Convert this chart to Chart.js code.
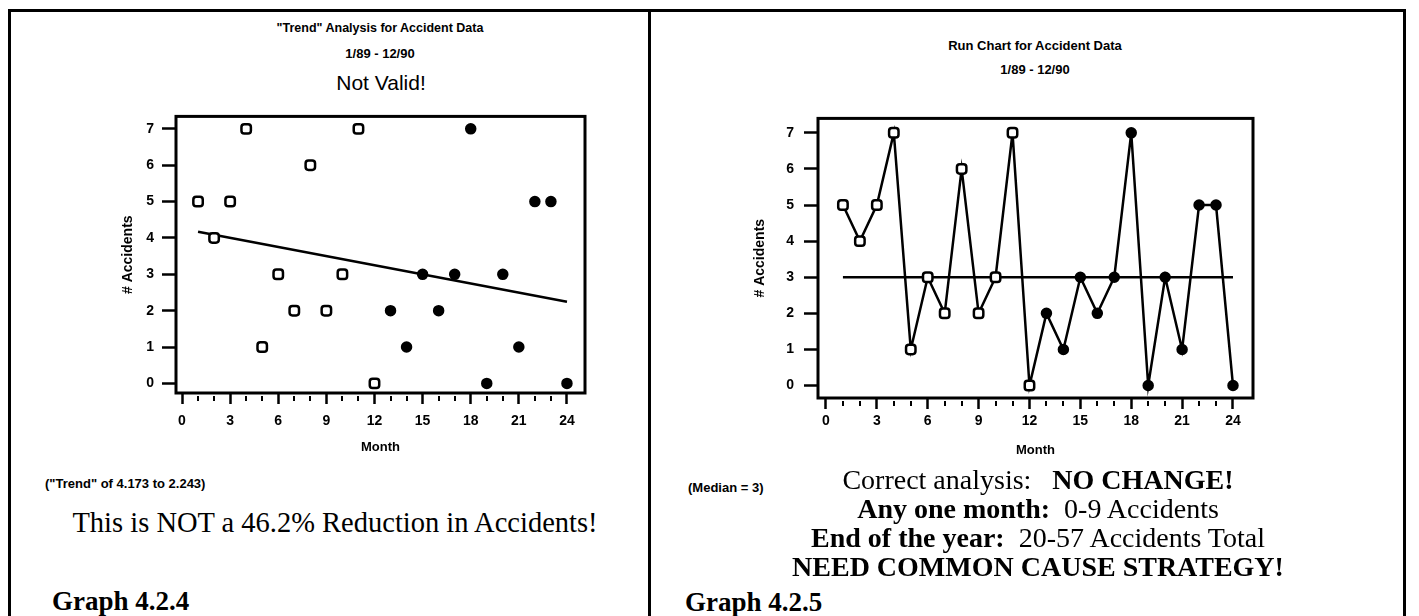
<!DOCTYPE html>
<html>
<head>
<meta charset="utf-8">
<title>Accident Data</title>
<script src="https://cdn.jsdelivr.net/npm/chart.js@4.4.1/dist/chart.umd.min.js"></script>
<style>
  html, body { margin: 0; padding: 0; background: #fff; }
  #page { position: relative; width: 1419px; height: 616px; overflow: hidden; background: #fff; }
  .box { position: absolute; border: 3px solid #000; box-sizing: border-box; }
  .t { position: absolute; white-space: pre; line-height: 1; color: #000; }
  .c { transform: translate(-50%, -50%); }
  .l { transform: translateY(-50%); }
  .sans { font-family: 'Liberation Sans Narrow', 'Liberation Sans', Arial, sans-serif; font-weight: bold; }
  .serif { font-family: 'Liberation Serif', 'Times New Roman', serif; }
  canvas { position: absolute; }
</style>
</head>
<body>
<div id="page">
  <div class="box" style="left:8px; top:9px; width:643px; height:640px;"></div>
  <div class="box" style="left:648px; top:9px; width:758px; height:640px;"></div>

  <!-- left panel -->
  <div class="t c sans" style="left:380px; top:28px; font-size:12.5px;">"Trend" Analysis for Accident Data</div>
  <div class="t c sans" style="left:380px; top:53px; font-size:13px;">1/89 - 12/90</div>
  <div class="t c sans" style="left:381px; top:82px; font-size:21px; font-weight:normal;">Not Valid!</div>
  <canvas id="trendChart" width="500" height="365" style="left:100px; top:100px;"></canvas>
  <div class="t l sans" style="left:45px; top:483px; font-size:13px;">("Trend" of 4.173 to 2.243)</div>
  <div class="t c serif" style="left:335px; top:523px; font-size:28.5px;">This is NOT a 46.2% Reduction in Accidents!</div>
  <div class="t l serif" style="left:52px; top:601px; font-size:27px; font-weight:bold;">Graph 4.2.4</div>

  <!-- right panel -->
  <div class="t c sans" style="left:1035px; top:45px; font-size:13px;">Run Chart for Accident Data</div>
  <div class="t c sans" style="left:1035px; top:69px; font-size:13px;">1/89 - 12/90</div>
  <canvas id="runChart" width="530" height="370" style="left:740px; top:100px;"></canvas>
  <div class="t l sans" style="left:688px; top:487px; font-size:13px;">(Median = 3)</div>
  <div class="t c serif" style="left:1038px; top:480px; font-size:28px;">Correct analysis:   <b>NO CHANGE!</b></div>
  <div class="t c serif" style="left:1038px; top:509px; font-size:28px;"><b>Any one month:</b>  0-9 Accidents</div>
  <div class="t c serif" style="left:1038px; top:538px; font-size:28px;"><b>End of the year:</b>  20-57 Accidents Total</div>
  <div class="t c serif" style="left:1038px; top:567px; font-size:28px; font-weight:bold;">NEED COMMON CAUSE STRATEGY!</div>
  <div class="t l serif" style="left:685px; top:602px; font-size:27px; font-weight:bold;">Graph 4.2.5</div>
</div>

<script>
// accidents per month, 1/89 - 12/90
const months = [1, 2, 3, 4, 5, 6, 7, 8, 9, 10, 11, 12, 13, 14, 15, 16, 17, 18, 19, 20, 21, 22, 23, 24];
const accidents = [5, 4, 5, 7, 1, 3, 2, 6, 2, 3, 7, 0, 2, 1, 3, 2, 3, 7, 0, 3, 1, 5, 5, 0];
const firstYearCount = 12; // open squares for 1989, filled dots for 1990

// "trend" line and median
const trendMonths = [1, 24];
const trendValues = [4.173, 2.243];
const medianMonths = [1, 24];
const medianValues = [3, 3];

const xTicks = [0, 3, 6, 9, 12, 15, 18, 21, 24];
const xMinorTicks = [1, 2, 4, 5, 7, 8, 10, 11, 13, 14, 16, 17, 19, 20, 22, 23];
const yTicks = [0, 1, 2, 3, 4, 5, 6, 7];

const sansFont = "'Liberation Sans Narrow', 'Liberation Sans', Arial, sans-serif";
Chart.defaults.font.family = sansFont;
Chart.defaults.font.weight = 'bold';
Chart.defaults.color = '#000';

const points = months.map((m, i) => ({ x: m, y: accidents[i] }));
const trendPoints = trendMonths.map((m, i) => ({ x: m, y: trendValues[i] }));
const medianPoints = medianMonths.map((m, i) => ({ x: m, y: medianValues[i] }));

// frame around the plot and the short minor ticks under it
const framePlugin = {
    id: 'frame',
    afterDraw(chart) {
        const { ctx, chartArea: a, scales: { x } } = chart;
        ctx.save();
        ctx.strokeStyle = '#000';
        ctx.lineWidth = 3;
        ctx.strokeRect(a.left, a.top, a.right - a.left, a.bottom - a.top);
        ctx.lineWidth = 2;
        xMinorTicks.forEach(v => {
            const px = Math.round(x.getPixelForValue(v));
            ctx.beginPath();
            ctx.moveTo(px, a.bottom + 3);
            ctx.lineTo(px, a.bottom + 8);
            ctx.stroke();
        });
        ctx.restore();
    }
};

function markerStyle(ctx) { return ctx.dataIndex < firstYearCount ? 'rectRounded' : 'circle'; }
function markerFill(ctx) { return ctx.dataIndex < firstYearCount ? '#fff' : '#000'; }
function markerRadius(ctx) { return ctx.dataIndex < firstYearCount ? 5.5 : 4.5; }

function makeOptions(cfg) {
    return {
        responsive: false,
        animation: false,
        events: [],
        layout: { padding: { top: cfg.padTop, right: cfg.padRight, left: 0, bottom: 0 } },
        plugins: { legend: { display: false }, tooltip: { enabled: false } },
        scales: {
            x: {
                type: 'linear',
                min: cfg.xMin, max: cfg.xMax,
                afterBuildTicks: s => { s.ticks = xTicks.map(v => ({ value: v })); },
                afterFit: s => { s.height = cfg.xHeight; },
                border: { display: false },
                grid: { drawOnChartArea: false, tickLength: 11, tickWidth: 2.5, tickColor: '#000' },
                ticks: { padding: cfg.xPad, font: { size: 14, weight: 'bold' }, maxRotation: 0 },
                title: { display: true, text: 'Month', font: { size: 13, weight: 'bold' }, padding: { top: 0, bottom: cfg.monthPad } }
            },
            y: {
                type: 'linear',
                min: cfg.yMin, max: cfg.yMax,
                afterBuildTicks: s => { s.ticks = yTicks.map(v => ({ value: v })); },
                afterFit: s => { s.width = cfg.yWidth; },
                border: { display: false },
                grid: { drawOnChartArea: false, tickLength: 14, tickWidth: 2.5, tickColor: '#000' },
                ticks: { padding: cfg.yPad, font: { size: 14, weight: 'bold' } },
                title: { display: true, text: '# Accidents', font: { size: 14, weight: 'bold' }, padding: { top: cfg.titlePad, bottom: 0 } }
            }
        }
    };
}

// Graph 4.2.4 - scatter with least squares "trend"
new Chart(document.getElementById('trendChart').getContext('2d'), {
    type: 'scatter',
    data: {
        datasets: [{
            data: points,
            pointStyle: markerStyle,
            pointRadius: markerRadius,
            pointBackgroundColor: markerFill,
            pointBorderColor: '#000',
            pointBorderWidth: 2.5,
            order: 0
        }, {
            type: 'line',
            data: trendPoints,
            borderColor: '#000',
            borderWidth: 2.5,
            pointRadius: 0,
            order: 1
        }]
    },
    options: makeOptions({
        padTop: 5, padRight: 15, xHeight: 72, yWidth: 76,
        xMin: -0.375, xMax: 25.125, yMin: -0.264, yMax: 7.343,
        xPad: 9, yPad: 8, monthPad: 10, titlePad: 20
    }),
    plugins: [framePlugin]
});

// Graph 4.2.5 - run chart with median
new Chart(document.getElementById('runChart').getContext('2d'), {
    type: 'line',
    data: {
        datasets: [{
            data: points,
            borderColor: '#000',
            borderWidth: 2.5,
            pointStyle: markerStyle,
            pointRadius: markerRadius,
            pointBackgroundColor: markerFill,
            pointBorderColor: '#000',
            pointBorderWidth: 2.5,
            order: 0
        }, {
            data: medianPoints,
            borderColor: '#000',
            borderWidth: 2.5,
            pointRadius: 0,
            order: 1
        }]
    },
    options: makeOptions({
        padTop: 6, padRight: 17, xHeight: 72, yWidth: 78,
        xMin: -0.47, xMax: 25.18, yMin: -0.345, yMax: 7.4,
        xPad: 4, yPad: 10, monthPad: 12, titlePad: 12
    }),
    plugins: [framePlugin]
});
</script>
</body>
</html>
